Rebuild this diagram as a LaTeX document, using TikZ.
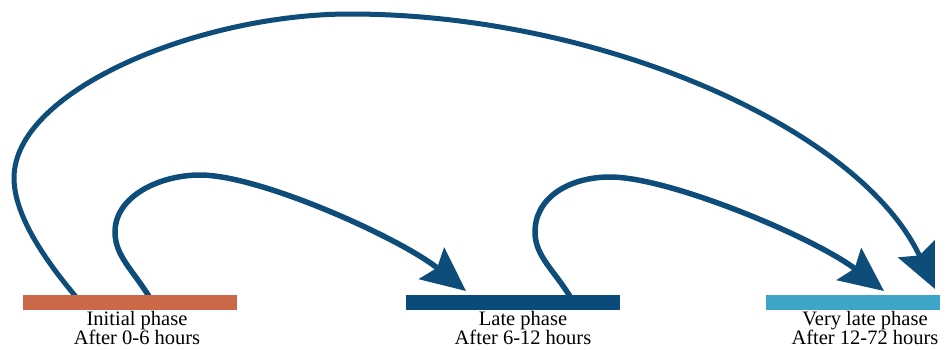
\documentclass[tikz,border=0pt]{standalone}
\usepackage{fontspec}
\setmainfont{Liberation Serif}
\usetikzlibrary{arrows.meta,calc}
\definecolor{orangebar}{RGB}{203,104,72}
\definecolor{darkbar}{RGB}{10,75,122}
\definecolor{lightbar}{RGB}{62,165,200}
\definecolor{arrowblue}{RGB}{14,76,122}
\pgfdeclarelayer{bg}
\pgfsetlayers{bg,main}
\begin{document}
\begin{tikzpicture}[x=1pt,y=-1pt,
  bar/.style={draw=none,rectangle,minimum height=15pt,inner sep=0pt,anchor=north west},
  lbl/.style={align=center,inner sep=0pt,anchor=north,font=\fontsize{20.5}{19.5}\selectfont},
  flow/.style={draw=arrowblue,line width=5.5pt,-{Stealth[length=44pt,width=40pt,inset=7pt]}},
  bigflow/.style={flow,line width=5pt}
]
\useasboundingbox (0,0) rectangle (948,349);

\node[bar,fill=orangebar,minimum width=214pt] (b1) at (23,295) {};
\node[bar,fill=darkbar,minimum width=214pt] (b2) at (406,295) {};
\node[bar,fill=lightbar,minimum width=174pt] (b3) at (766,295) {};

\node[lbl] (t1) at (137,311) {Initial phase\\After 0-6 hours};
\node[lbl] (t2) at (523,311) {Late phase\\After 6-12 hours};
\node[lbl] (t3) at (865,311) {Very late phase\\After 12-72 hours};

\coordinate (s0) at ($(b1.north west)+(54,3)$);
\coordinate (s1) at ($(b1.north west)+(127,3)$);
\coordinate (s2) at ($(b2.north west)+(165,3)$);
\coordinate (e0) at ($(b3.north west)+(169,-6)$);
\coordinate (e1) at ($(b2.north west)+(60,-4)$);
\coordinate (e2) at ($(b3.north west)+(118,-4)$);

\begin{pgfonlayer}{bg}
\draw[bigflow] (s0) .. controls (50,266) and (14,218) .. (14,178)
  .. controls (14,90) and (200,14) .. (350,14)
  .. controls (600,14) and (860,128) .. (e0);
\draw[flow] (s1) .. controls (133,270) and (115,256) .. (115,232)
  .. controls (115,196) and (160,175) .. (200,175)
  .. controls (260,175) and (400,238) .. (e1);
\draw[flow] (s2) .. controls (554,270) and (535,256) .. (535,232)
  .. controls (535,197) and (570,177) .. (610,177)
  .. controls (670,177) and (815,238) .. (e2);
\end{pgfonlayer}
\end{tikzpicture}
\end{document}
